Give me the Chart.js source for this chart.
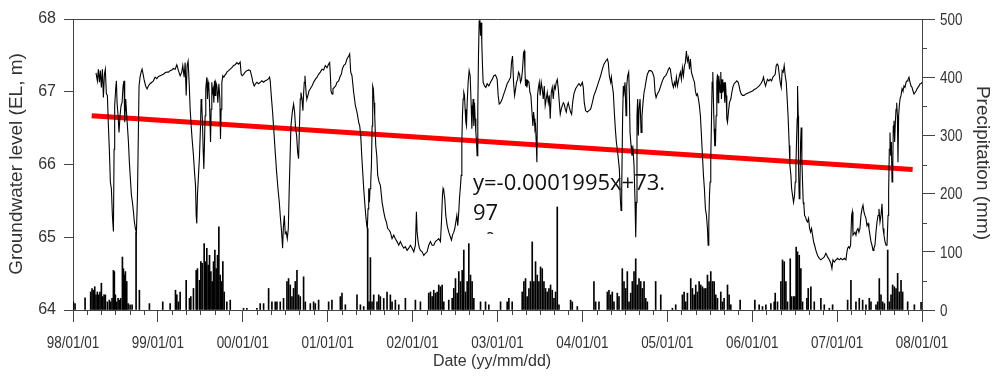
<!DOCTYPE html>
<html><head><meta charset="utf-8">
<script src="https://cdn.jsdelivr.net/npm/chart.js@4.4.0/dist/chart.umd.min.js"></script>
<style>html,body{margin:0;padding:0;background:#fff;}#wrap{width:993px;height:376px;}</style>
</head><body><div id="wrap"><canvas id="c" width="993" height="376"></canvas></div>
<script>
// x values are years since 1998-01-01
const xTickYears = [0,1,2,3,4,5,6,7,8,9,10];
const xTickLabels = ["98/01/01","99/01/01","00/01/01","01/01/01","02/01/01","03/01/01","04/01/01","05/01/01","06/01/01","07/01/01","08/01/01"];
const yLeftTicks = [64,65,66,67,68];
const yRightTicks = [0,100,200,300,400,500];
const yRightMinor = [50,150,250,350,450];
const eqLines = ["y=-0.0001995x+73.", "97", "R\u00b2"];
const trendYear = [0.220, 9.890];
const trendLevel = [66.67, 65.93];

const gwPoints = [
[0.271,67.26],[0.287,67.15],[0.299,67.31],[0.311,67.13],[0.322,67.29],[0.334,67.06],[0.346,67.31],[0.358,66.92],[0.370,67.24],[0.381,67.31],[0.393,66.97],[0.405,66.95],[0.417,66.53],[0.428,66.21],[0.440,65.76],[0.452,65.67],[0.464,65.30],[0.476,65.08],[0.484,66.21],[0.491,66.81],[0.503,67.04],[0.511,67.15],[0.519,66.85],[0.531,66.67],[0.542,66.44],[0.554,66.67],[0.566,66.81],[0.578,66.85],[0.590,67.08],[0.601,67.15],[0.609,66.58],[0.621,66.90],[0.633,66.67],[0.641,66.53],[0.653,66.31],[0.664,66.03],[0.676,65.80],[0.688,65.58],[0.700,65.48],[0.712,65.35],[0.723,65.21],[0.735,65.12],[0.747,65.07],[0.759,65.55],[0.770,66.44],[0.778,67.08],[0.790,67.20],[0.802,67.27],[0.814,67.31],[0.826,67.24],[0.837,67.17],[0.849,67.11],[0.861,67.06],[0.873,67.04],[0.888,67.08],[0.908,67.11],[0.928,67.13],[0.947,67.15],[0.967,67.20],[0.987,67.18],
[1.006,67.21],[1.026,67.22],[1.046,67.23],[1.065,67.24],[1.085,67.26],[1.105,67.27],[1.124,67.27],[1.144,67.29],[1.164,67.30],[1.183,67.32],[1.203,67.31],[1.223,67.37],[1.242,67.29],[1.262,67.22],[1.281,67.27],[1.293,67.36],[1.309,67.20],[1.321,67.40],[1.333,66.95],[1.344,67.36],[1.356,67.42],[1.368,67.13],[1.380,66.76],[1.392,66.53],[1.403,66.35],[1.419,66.12],[1.431,65.90],[1.443,65.71],[1.451,65.30],[1.458,65.19],[1.466,65.58],[1.478,65.85],[1.490,66.12],[1.502,66.53],[1.509,66.90],[1.517,66.81],[1.525,66.58],[1.533,66.21],[1.541,65.94],[1.549,66.31],[1.556,66.67],[1.564,67.04],[1.576,67.20],[1.584,66.90],[1.592,67.13],[1.600,67.08],[1.608,66.85],[1.620,66.31],[1.627,66.76],[1.635,67.13],[1.643,66.99],[1.651,67.04],[1.659,66.85],[1.667,67.15],[1.675,66.95],[1.682,67.13],[1.694,67.08],[1.706,66.85],[1.718,67.11],[1.730,66.90],[1.737,66.35],[1.745,66.76],[1.753,67.13],[1.765,67.22],[1.777,67.20],[1.789,67.23],[1.800,67.24],[1.812,67.27],[1.832,67.29],[1.851,67.31],[1.871,67.33],[1.891,67.36],[1.910,67.37],[1.930,67.40],[1.950,67.38],[1.969,67.41],[1.981,67.24],[1.993,67.22],
[2.009,67.24],[2.028,67.27],[2.048,67.29],[2.068,67.30],[2.088,67.29],[2.107,67.20],[2.119,67.13],[2.135,67.08],[2.150,67.11],[2.166,67.13],[2.186,67.11],[2.205,67.13],[2.225,67.15],[2.245,67.13],[2.264,67.15],[2.284,67.16],[2.304,67.18],[2.315,67.20],[2.323,67.15],[2.335,66.95],[2.351,66.72],[2.367,66.44],[2.382,66.17],[2.398,65.90],[2.414,65.67],[2.430,65.48],[2.441,65.30],[2.457,65.07],[2.469,64.85],[2.477,65.12],[2.489,65.30],[2.500,65.05],[2.512,65.07],[2.524,64.98],[2.536,65.12],[2.547,65.67],[2.567,66.53],[2.583,66.72],[2.598,66.83],[2.610,66.72],[2.622,66.49],[2.634,66.40],[2.646,66.17],[2.657,66.08],[2.669,66.58],[2.677,66.90],[2.685,66.99],[2.697,66.90],[2.708,66.74],[2.716,66.97],[2.724,67.13],[2.732,67.22],[2.740,67.08],[2.748,66.95],[2.755,66.90],[2.767,66.95],[2.779,67.01],[2.795,67.04],[2.815,67.08],[2.834,67.13],[2.854,67.17],[2.874,67.20],[2.893,67.24],[2.913,67.27],[2.933,67.31],[2.952,67.30],[2.972,67.36],[2.992,67.33],
[3.011,67.38],[3.023,67.40],[3.031,67.24],[3.039,67.01],[3.051,66.97],[3.062,67.04],[3.078,67.06],[3.094,67.08],[3.109,67.13],[3.129,67.15],[3.149,67.22],[3.161,67.24],[3.172,67.31],[3.188,67.36],[3.208,67.38],[3.227,67.45],[3.247,67.49],[3.259,67.52],[3.271,67.27],[3.286,67.22],[3.306,66.99],[3.326,66.81],[3.345,66.72],[3.365,66.58],[3.377,66.53],[3.389,66.40],[3.401,66.12],[3.412,65.90],[3.424,65.67],[3.436,65.48],[3.448,65.30],[3.460,65.16],[3.467,65.12],[3.475,65.39],[3.483,65.67],[3.491,65.48],[3.499,65.67],[3.507,65.76],[3.515,65.99],[3.523,66.53],[3.530,67.08],[3.538,67.04],[3.546,66.85],[3.554,66.67],[3.566,66.26],[3.578,66.12],[3.589,65.85],[3.605,65.76],[3.621,65.71],[3.641,65.48],[3.660,65.35],[3.676,65.26],[3.691,65.21],[3.707,65.12],[3.723,65.10],[3.738,65.07],[3.758,64.98],[3.778,65.03],[3.797,64.98],[3.817,64.94],[3.837,64.89],[3.856,64.94],[3.876,64.89],[3.896,64.85],[3.915,64.87],[3.935,64.82],[3.955,64.85],[3.974,64.89],[3.994,64.85],
[4.014,64.80],[4.033,64.89],[4.045,65.35],[4.053,65.07],[4.065,64.94],[4.080,64.85],[4.092,64.82],[4.112,64.80],[4.132,64.75],[4.151,64.78],[4.171,64.80],[4.190,64.89],[4.210,64.94],[4.230,64.89],[4.249,64.89],[4.269,64.94],[4.289,64.96],[4.308,64.98],[4.328,64.94],[4.340,65.21],[4.352,65.58],[4.359,65.67],[4.367,65.64],[4.379,65.53],[4.391,65.30],[4.407,65.16],[4.426,65.07],[4.446,65.00],[4.458,64.96],[4.470,65.03],[4.485,65.07],[4.497,65.12],[4.509,65.21],[4.521,65.30],[4.532,65.16],[4.544,65.35],[4.552,65.53],[4.564,65.71],[4.572,65.85],[4.580,66.31],[4.587,66.67],[4.595,66.90],[4.603,66.99],[4.611,66.95],[4.619,66.76],[4.627,66.58],[4.635,66.53],[4.643,66.85],[4.654,67.13],[4.666,67.29],[4.678,67.22],[4.690,66.81],[4.698,66.49],[4.705,66.72],[4.713,66.90],[4.721,66.53],[4.729,66.85],[4.737,66.63],[4.745,66.44],[4.753,66.31],[4.760,66.12],[4.768,66.76],[4.776,67.49],[4.784,67.97],[4.792,68.00],[4.800,67.77],[4.808,67.95],[4.815,67.68],[4.823,67.36],[4.831,67.13],[4.847,67.08],[4.863,67.06],[4.878,67.11],[4.898,67.08],[4.918,67.13],[4.937,67.17],[4.957,67.22],[4.977,67.23],[4.996,67.17],
[5.008,66.95],[5.020,66.83],[5.036,66.85],[5.055,66.90],[5.075,66.97],[5.095,67.04],[5.114,67.11],[5.134,67.15],[5.154,67.20],[5.165,67.40],[5.177,67.49],[5.189,67.13],[5.201,66.95],[5.213,67.04],[5.224,67.13],[5.236,67.17],[5.248,67.27],[5.260,67.24],[5.271,67.13],[5.283,67.17],[5.295,67.31],[5.307,67.54],[5.315,67.56],[5.323,67.31],[5.330,67.08],[5.338,67.17],[5.346,67.06],[5.358,67.15],[5.370,67.13],[5.382,66.99],[5.393,66.95],[5.401,66.81],[5.409,66.67],[5.417,66.53],[5.425,66.72],[5.433,66.63],[5.441,66.49],[5.448,66.53],[5.456,66.31],[5.464,66.03],[5.472,66.95],[5.480,67.04],[5.492,67.13],[5.503,66.95],[5.515,67.13],[5.527,67.04],[5.539,66.90],[5.551,67.08],[5.562,66.81],[5.574,66.90],[5.586,66.99],[5.598,66.85],[5.610,66.95],[5.621,66.63],[5.633,66.99],[5.645,67.06],[5.657,66.90],[5.669,67.08],[5.680,67.04],[5.692,67.13],[5.704,67.17],[5.716,67.04],[5.728,66.85],[5.739,66.69],[5.751,66.76],[5.763,66.81],[5.775,66.85],[5.786,66.83],[5.798,66.76],[5.810,66.72],[5.822,66.81],[5.834,66.85],[5.845,66.79],[5.861,66.72],[5.873,66.69],[5.885,66.85],[5.900,66.97],[5.920,67.04],[5.940,67.08],[5.959,67.11],[5.979,67.08],[5.999,67.13],
[6.010,67.06],[6.022,66.85],[6.038,66.74],[6.058,66.72],[6.077,66.74],[6.097,66.76],[6.117,66.85],[6.136,66.95],[6.156,67.01],[6.176,67.08],[6.195,67.15],[6.215,67.22],[6.235,67.31],[6.254,67.38],[6.274,67.42],[6.294,67.45],[6.305,67.40],[6.317,67.22],[6.333,67.13],[6.341,67.20],[6.352,67.08],[6.364,66.99],[6.376,66.72],[6.388,66.49],[6.400,66.31],[6.411,66.21],[6.423,66.08],[6.435,65.94],[6.447,65.53],[6.455,65.37],[6.463,65.67],[6.474,66.67],[6.482,67.08],[6.490,66.99],[6.502,67.13],[6.514,66.67],[6.522,67.08],[6.533,67.22],[6.545,67.27],[6.553,66.99],[6.561,66.44],[6.573,66.26],[6.584,66.12],[6.596,66.21],[6.608,65.99],[6.620,65.48],[6.628,65.00],[6.636,65.48],[6.643,66.67],[6.651,66.90],[6.659,66.40],[6.667,66.76],[6.679,66.90],[6.691,66.44],[6.702,66.67],[6.714,66.85],[6.726,66.99],[6.738,67.06],[6.750,67.15],[6.765,67.24],[6.785,67.29],[6.805,67.29],[6.824,67.27],[6.844,67.20],[6.856,66.99],[6.868,66.92],[6.883,66.97],[6.903,67.01],[6.923,67.08],[6.942,67.15],[6.962,67.20],[6.982,67.22],
[7.001,67.27],[7.013,67.31],[7.025,67.33],[7.036,67.31],[7.048,67.20],[7.060,67.11],[7.072,67.06],[7.084,67.13],[7.096,67.08],[7.107,67.20],[7.119,67.08],[7.131,67.15],[7.143,67.22],[7.154,67.27],[7.166,67.17],[7.178,67.33],[7.190,67.22],[7.202,67.36],[7.213,67.40],[7.225,67.56],[7.237,67.42],[7.249,67.47],[7.261,67.31],[7.272,67.45],[7.284,67.27],[7.296,67.22],[7.308,67.17],[7.320,67.13],[7.331,67.01],[7.343,66.95],[7.355,66.97],[7.367,66.90],[7.378,66.81],[7.390,66.67],[7.402,66.40],[7.414,66.12],[7.426,65.85],[7.437,65.67],[7.449,65.39],[7.461,65.30],[7.473,65.12],[7.481,64.89],[7.489,65.21],[7.497,65.58],[7.504,65.76],[7.512,66.08],[7.520,66.58],[7.528,67.13],[7.536,67.27],[7.544,66.85],[7.552,66.49],[7.559,66.26],[7.567,66.26],[7.575,66.67],[7.583,67.13],[7.591,67.24],[7.599,66.85],[7.606,67.22],[7.614,67.13],[7.622,66.99],[7.630,67.27],[7.638,66.90],[7.646,67.17],[7.654,66.99],[7.661,67.04],[7.669,67.13],[7.677,66.85],[7.685,67.13],[7.693,66.95],[7.701,66.63],[7.709,66.58],[7.720,66.72],[7.732,66.85],[7.748,66.90],[7.760,66.99],[7.772,67.06],[7.787,67.11],[7.803,67.13],[7.819,67.15],[7.835,67.13],[7.846,67.08],[7.858,67.01],[7.870,66.97],[7.886,66.95],[7.905,66.95],[7.925,66.97],[7.945,66.98],[7.964,66.99],[7.984,67.00],
[8.004,67.01],[8.023,67.03],[8.043,67.04],[8.062,67.06],[8.082,67.08],[8.102,67.11],[8.121,67.15],[8.133,67.20],[8.145,67.13],[8.157,67.08],[8.169,67.13],[8.180,67.17],[8.196,67.15],[8.212,67.17],[8.228,67.15],[8.243,67.20],[8.259,67.22],[8.271,67.24],[8.283,67.36],[8.294,67.38],[8.306,67.36],[8.318,67.24],[8.330,67.13],[8.342,67.06],[8.353,67.29],[8.365,67.27],[8.377,67.36],[8.389,67.22],[8.401,67.13],[8.412,66.90],[8.424,66.63],[8.436,66.26],[8.444,65.99],[8.456,65.85],[8.464,65.67],[8.475,65.58],[8.487,65.48],[8.499,65.58],[8.507,65.76],[8.515,65.99],[8.522,66.31],[8.530,66.63],[8.534,67.08],[8.542,66.67],[8.546,65.94],[8.554,65.53],[8.562,65.67],[8.570,66.31],[8.577,66.51],[8.585,66.08],[8.593,65.76],[8.601,65.48],[8.609,65.44],[8.617,65.30],[8.628,65.28],[8.640,65.23],[8.652,65.21],[8.664,65.26],[8.676,65.12],[8.688,65.07],[8.699,65.12],[8.711,65.03],[8.723,64.94],[8.735,64.89],[8.750,64.82],[8.770,64.75],[8.790,64.71],[8.809,64.69],[8.829,64.71],[8.849,64.73],[8.868,64.78],[8.888,64.73],[8.908,64.69],[8.927,64.64],[8.939,64.57],[8.951,64.69],[8.967,64.66],[8.986,64.69],
[9.006,64.71],[9.026,64.69],[9.045,64.71],[9.065,64.69],[9.085,64.71],[9.104,64.69],[9.116,64.80],[9.124,64.85],[9.136,64.87],[9.147,64.85],[9.159,64.89],[9.171,65.30],[9.179,65.35],[9.187,65.03],[9.199,65.05],[9.210,65.07],[9.222,65.03],[9.234,65.10],[9.246,65.12],[9.257,65.07],[9.269,65.12],[9.281,65.30],[9.293,65.39],[9.305,65.44],[9.316,65.35],[9.328,65.30],[9.340,65.26],[9.352,65.16],[9.364,65.19],[9.375,65.12],[9.387,65.03],[9.399,64.94],[9.411,64.89],[9.423,64.82],[9.434,64.85],[9.446,64.89],[9.458,65.07],[9.470,65.21],[9.482,65.30],[9.493,65.39],[9.505,65.21],[9.517,65.30],[9.529,65.46],[9.541,65.12],[9.552,65.03],[9.564,64.94],[9.576,64.89],[9.588,64.89],[9.600,65.30],[9.607,65.62],[9.615,66.21],[9.623,66.44],[9.631,66.12],[9.639,66.31],[9.647,65.76],[9.655,65.90],[9.662,66.53],[9.670,66.60],[9.678,66.31],[9.686,66.58],[9.694,66.76],[9.702,66.85],[9.710,66.67],[9.717,66.03],[9.725,66.67],[9.733,66.81],[9.741,66.90],[9.753,66.95],[9.765,67.04],[9.776,67.01],[9.788,67.08],[9.800,67.06],[9.812,67.13],[9.824,67.15],[9.835,67.17],[9.847,67.20],[9.859,67.13],[9.871,67.08],[9.883,67.06],[9.894,67.01],[9.906,66.97],[9.918,66.99],[9.930,67.01],[9.942,67.04],[9.953,67.06],[9.965,67.08],[9.977,67.11],[9.989,67.11],[10.000,67.13]
];

const rainPoints = [
[0.004,14],[0.024,11],[0.142,21],[0.208,31],[0.224,37],[0.240,34],[0.256,40],[0.271,26],[0.287,31],[0.303,26],[0.318,31],[0.334,46],[0.350,23],[0.366,26],[0.381,26],[0.405,14],[0.428,17],[0.444,14],[0.460,20],[0.476,68],[0.487,66],[0.499,26],[0.515,14],[0.531,20],[0.546,17],[0.562,20],[0.582,91],[0.594,71],[0.605,60],[0.617,66],[0.633,49],[0.649,11],[0.672,9],[0.696,9],[0.743,134],[0.782,34],[0.900,11],
[1.057,14],[1.144,11],[1.207,34],[1.223,26],[1.242,14],[1.262,31],[1.333,51],[1.372,20],[1.388,23],[1.419,37],[1.451,68],[1.466,71],[1.490,51],[1.506,83],[1.521,80],[1.545,114],[1.561,83],[1.576,106],[1.592,77],[1.608,94],[1.624,66],[1.639,49],[1.655,83],[1.671,103],[1.686,71],[1.702,94],[1.718,143],[1.734,60],[1.749,49],[1.765,83],[1.781,31],[1.812,14],[1.852,17],
[2.009,3],[2.048,3],[2.166,3],[2.205,11],[2.245,11],[2.304,37],[2.343,14],[2.382,14],[2.402,14],[2.441,14],[2.480,20],[2.520,49],[2.539,54],[2.559,43],[2.579,23],[2.598,37],[2.618,49],[2.638,68],[2.657,26],[2.677,23],[2.716,57],[2.736,14],[2.795,11],[2.834,14],[2.854,11],[2.893,17],
[3.011,14],[3.050,17],[3.149,23],[3.168,29],[3.208,9],[3.345,26],[3.385,9],[3.424,6],[3.471,140],[3.487,14],[3.503,90],[3.522,14],[3.542,26],[3.581,14],[3.601,26],[3.620,23],[3.660,20],[3.699,31],[3.738,26],[3.758,14],[3.797,17],[3.837,9],[3.915,20],
[4.033,17],[4.092,14],[4.190,29],[4.210,31],[4.230,23],[4.249,34],[4.269,29],[4.289,31],[4.308,43],[4.328,40],[4.348,43],[4.367,14],[4.426,17],[4.466,20],[4.485,37],[4.505,54],[4.525,29],[4.544,66],[4.564,49],[4.584,68],[4.595,49],[4.603,103],[4.623,31],[4.643,49],[4.662,114],[4.682,60],[4.701,49],[4.721,20],[4.800,14],[4.859,14],[4.898,9],
[5.036,14],[5.114,14],[5.134,20],[5.173,14],[5.291,31],[5.311,49],[5.330,54],[5.350,23],[5.370,37],[5.389,49],[5.409,117],[5.429,49],[5.448,83],[5.468,60],[5.488,49],[5.507,74],[5.527,71],[5.547,49],[5.566,37],[5.586,31],[5.606,37],[5.625,43],[5.645,34],[5.665,20],[5.684,31],[5.704,177],[5.724,9],[5.861,17],[5.881,14],[5.940,6],
[6.136,49],[6.156,14],[6.195,14],[6.294,31],[6.313,34],[6.333,26],[6.352,31],[6.372,14],[6.411,29],[6.431,23],[6.470,71],[6.490,49],[6.510,37],[6.529,66],[6.549,14],[6.569,29],[6.588,49],[6.608,66],[6.628,88],[6.647,43],[6.667,54],[6.687,49],[6.706,37],[6.726,49],[6.746,20],[6.765,14],[6.863,49],[6.923,26],
[7.060,3],[7.099,9],[7.178,26],[7.198,31],[7.217,14],[7.237,29],[7.276,54],[7.296,37],[7.316,26],[7.335,43],[7.355,31],[7.375,49],[7.394,43],[7.414,40],[7.433,37],[7.453,37],[7.473,60],[7.492,49],[7.512,66],[7.532,49],[7.552,49],[7.571,26],[7.591,20],[7.630,31],[7.650,14],[7.669,20],[7.709,43],[7.728,26],[7.748,9],[7.858,17],
[8.031,17],[8.082,9],[8.121,6],[8.161,9],[8.220,11],[8.259,14],[8.271,29],[8.298,14],[8.338,49],[8.357,86],[8.377,83],[8.397,49],[8.416,14],[8.448,88],[8.464,23],[8.487,23],[8.503,23],[8.518,108],[8.534,100],[8.554,94],[8.573,71],[8.593,14],[8.644,20],[8.660,37],[8.691,40],[8.731,14],[8.809,20],[8.849,9],[8.908,3],[8.947,9],
[9.124,17],[9.163,51],[9.222,14],[9.261,20],[9.301,17],[9.340,9],[9.379,20],[9.399,14],[9.458,9],[9.478,14],[9.497,54],[9.517,26],[9.537,14],[9.557,11],[9.596,103],[9.615,14],[9.635,26],[9.654,43],[9.674,40],[9.694,37],[9.713,63],[9.733,31],[9.753,51],[9.772,31],[9.831,14],[9.910,9],[9.989,13]
];

const AXIS = '#444';
const TXT = '#333';
const NARROW = 0.84;

const decor = {
  id: 'decor',
  afterDraw(chart) {
    const ctx = chart.ctx;
    const a = chart.chartArea;
    const xs = chart.scales.x, yr = chart.scales.y2;
    ctx.save();
    ctx.strokeStyle = AXIS; ctx.lineWidth = 1;
    ctx.beginPath(); ctx.moveTo(a.left, a.top + 0.5); ctx.lineTo(a.right, a.top + 0.5); ctx.stroke();
    ctx.beginPath();
    for (let y = 0; y < 10; y++) for (let m = 1; m < 6; m++) {
      const px = Math.round(xs.getPixelForValue(y + m / 6)) + 0.5;
      ctx.moveTo(px, a.bottom); ctx.lineTo(px, a.bottom + 5);
    }
    yRightMinor.forEach(v => {
      const py = Math.round(yr.getPixelForValue(v)) + 0.5;
      ctx.moveTo(a.right, py); ctx.lineTo(a.right + 5, py);
    });
    ctx.stroke();
    ctx.fillStyle = TXT;
    ctx.font = "16px 'Liberation Sans', Arial, sans-serif";
    ctx.textBaseline = 'alphabetic';
    xTickYears.forEach((v, i) => {
      ctx.save(); ctx.translate(xs.getPixelForValue(v), 348); ctx.scale(NARROW, 1);
      ctx.textAlign = 'center'; ctx.fillText(xTickLabels[i], 0, 0); ctx.restore();
    });
    yRightTicks.forEach(v => {
      ctx.save(); ctx.translate(940, yr.getPixelForValue(v) + 5.8); ctx.scale(NARROW, 1);
      ctx.textAlign = 'left'; ctx.fillText(String(v), 0, 0); ctx.restore();
    });
    ctx.textAlign = 'center'; ctx.textBaseline = 'middle';
    ctx.font = "19px 'Liberation Sans', Arial, sans-serif";
    ctx.save(); ctx.translate(17, 164); ctx.rotate(-Math.PI / 2); ctx.fillText('Groundwater level (EL, m)', 0, 0); ctx.restore();
    ctx.save(); ctx.translate(982, 163); ctx.rotate(Math.PI / 2); ctx.fillText('Precipitation (mm)', 0, 0); ctx.restore();
    ctx.font = "16px 'Liberation Sans', Arial, sans-serif";
    ctx.fillText('Date (yy/mm/dd)', 492, 362);
    ctx.save();
    ctx.beginPath(); ctx.rect(468, 158, 200, 76); ctx.clip();
    ctx.fillStyle = '#111';
    ctx.textAlign = 'left'; ctx.textBaseline = 'alphabetic';
    ctx.font = "22px 'Open Sans', 'Noto Sans', sans-serif";
    eqLines.forEach((t, i) => ctx.fillText(t, 473, 190 + i * 30));
    ctx.restore();
    ctx.restore();
  }
};

new Chart(document.getElementById('c'), {
  type: 'line',
  data: {
    datasets: [
      { type: 'line', label: 'Groundwater level', data: gwPoints.map(p => ({ x: p[0], y: p[1] })), yAxisID: 'y',
        borderColor: '#000', borderWidth: 1.1, pointRadius: 0, tension: 0, order: 0 },
      { type: 'line', label: 'Trend', data: trendYear.map((x, i) => ({ x, y: trendLevel[i] })), yAxisID: 'y',
        borderColor: '#ff0000', borderWidth: 5, pointRadius: 0, tension: 0, order: 1 },
      { type: 'bar', label: 'Precipitation', data: rainPoints.map(p => ({ x: p[0], y: p[1] })), yAxisID: 'y2',
        backgroundColor: '#000', borderWidth: 0, barThickness: 1, order: 2 }
    ]
  },
  options: {
    responsive: false, animation: false, devicePixelRatio: 1,
    layout: { padding: { top: 19, left: 0, right: 0, bottom: 0 } },
    plugins: { legend: { display: false }, tooltip: { enabled: false } },
    scales: {
      x: {
        type: 'linear', min: 0, max: 10, offset: false, position: 'bottom',
        afterBuildTicks: s => { s.ticks = xTickYears.map(v => ({ value: v })); },
        afterFit: s => { s.height = 66; },
        grid: { display: true, drawOnChartArea: false, drawTicks: true, tickLength: 12, color: AXIS, offset: false },
        border: { display: true, color: AXIS },
        ticks: { display: false, autoSkip: false, maxRotation: 0 }
      },
      y: {
        type: 'linear', position: 'left', min: 64, max: 68,
        afterBuildTicks: s => { s.ticks = yLeftTicks.map(v => ({ value: v })); },
        afterFit: s => { s.width = 73; },
        grid: { display: true, drawOnChartArea: false, drawTicks: true, tickLength: 9, color: AXIS },
        border: { display: true, color: AXIS },
        ticks: { padding: 8, color: TXT, font: { family: "'Liberation Sans', Arial, sans-serif", size: 16 },
          callback: v => String(v) }
      },
      y2: {
        type: 'linear', position: 'right', min: 0, max: 500,
        afterBuildTicks: s => { s.ticks = yRightTicks.map(v => ({ value: v })); },
        afterFit: s => { s.width = 71; },
        grid: { display: true, drawOnChartArea: false, drawTicks: true, tickLength: 13, color: AXIS },
        border: { display: true, color: AXIS },
        ticks: { display: false }
      }
    }
  },
  plugins: [decor]
});
</script>
</body></html>
